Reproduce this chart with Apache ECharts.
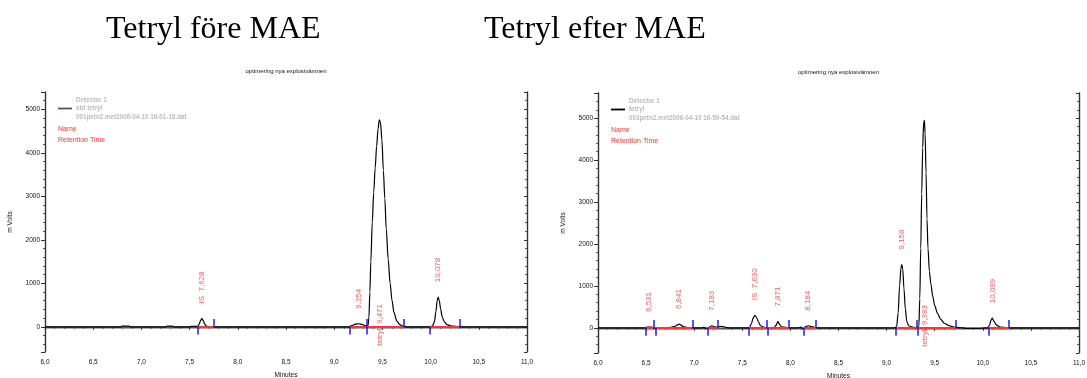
<!DOCTYPE html>
<html><head><meta charset="utf-8">
<script src="https://cdn.jsdelivr.net/npm/echarts@6/dist/echarts.min.js"></script>
<style>html,body{margin:0;padding:0;background:#fff}#c{width:1087px;height:378px}</style>
</head><body><div id="c"></div>
<script>
// ---------- data ----------
const xTickValues = [6.0, 6.5, 7.0, 7.5, 8.0, 8.5, 9.0, 9.5, 10.0, 10.5, 11.0];
const xTickLabels = ['6,0','6,5','7,0','7,5','8,0','8,5','9,0','9,5','10,0','10,5','11,0'];

// Left chromatogram: Tetryl före MAE  [minutes, mV]
const leftTrace = [
 [6.00,0],[6.78,0],[6.80,15],[6.87,15],[6.89,0],[7.25,0],[7.27,15],[7.32,15],[7.34,0],
 [7.50,0],[7.52,8],[7.585,8],[7.60,60],[7.615,150],[7.628,190],[7.64,150],[7.655,70],[7.67,20],[7.70,5],[7.75,0],
 [9.15,0],[9.18,25],[9.22,60],[9.254,70],[9.29,55],[9.32,30],[9.35,25],
 [9.36,200],[9.37,800],[9.38,1500],[9.395,2400],[9.41,3100],[9.425,3650],[9.44,4150],[9.455,4550],[9.468,4760],
 [9.48,4700],[9.495,4300],[9.51,3600],[9.525,2950],[9.54,2250],[9.56,1550],[9.58,1000],[9.60,600],[9.62,330],
 [9.65,130],[9.68,50],[9.72,10],[9.76,0],
 [10.00,0],[10.02,20],[10.04,120],[10.055,350],[10.068,600],[10.078,680],[10.09,600],[10.105,400],[10.12,230],
 [10.14,120],[10.17,50],[10.22,15],[10.30,0],[11.00,0]
];
const leftPeakRT     = [7.628, 9.254, 9.471, 10.078];
const leftPeakName   = ['IS', '', 'tetryl', ''];
const leftPeakHeight = [190, 70, 4760, 680];
const leftPeakStart  = [7.580, 9.164, 9.337, 9.994];
const leftPeakEnd    = [7.746, 9.337, 9.717, 10.298];

// Right chromatogram: Tetryl efter MAE
const rightTrace = [
 [6.00,0],[6.49,0],[6.51,15],[6.56,18],[6.59,-10],[6.63,-5],[6.70,0],[6.76,10],[6.80,35],[6.825,70],[6.841,90],
 [6.86,70],[6.885,30],[6.93,8],[6.98,0],[7.08,0],[7.10,10],[7.13,-15],[7.16,20],[7.183,50],[7.21,25],[7.24,15],
 [7.27,35],[7.30,30],[7.33,10],[7.37,0],[7.55,0],[7.575,5],[7.595,100],[7.612,230],[7.630,300],[7.65,240],
 [7.67,130],[7.69,50],[7.72,15],[7.76,0],[7.83,5],[7.85,60],[7.871,150],[7.89,70],[7.91,20],[7.95,10],[7.99,0],
 [8.08,0],[8.11,15],[8.13,-25],[8.16,30],[8.184,50],[8.21,35],[8.25,10],[8.30,0],
 [9.09,0],[9.105,40],[9.12,350],[9.135,1000],[9.15,1450],[9.158,1510],[9.168,1400],[9.18,950],[9.195,450],
 [9.21,150],[9.23,50],[9.27,15],[9.32,0],[9.335,30],[9.345,700],[9.355,1900],[9.365,3200],[9.375,4300],
 [9.385,4900],[9.393,4950],[9.40,4650],[9.41,3700],[9.42,2600],[9.43,1900],[9.445,1350],[9.46,1050],[9.48,750],
 [9.50,530],[9.53,340],[9.56,210],[9.60,110],[9.65,50],[9.70,20],[9.76,5],[9.80,0],[9.83,-15],[9.95,-15],
 [10.00,-5],[10.05,0],[10.07,60],[10.085,180],[10.099,230],[10.115,160],[10.14,70],[10.18,20],[10.25,5],
 [10.30,0],[11.00,0]
];
const rightPeakRT     = [6.531, 6.841, 7.183, 7.630, 7.871, 8.184, 9.158, 9.393, 10.099];
const rightPeakName   = ['', '', '', 'IS', '', '', '', 'tetryl', ''];
const rightPeakHeight = [20, 90, 50, 300, 150, 50, 1510, 4950, 230];
const rightPeakStart  = [6.500, 6.596, 7.140, 7.570, 7.760, 8.134, 9.098, 9.320, 10.057];
const rightPeakEnd    = [6.575, 6.980, 7.240, 7.750, 7.985, 8.266, 9.310, 9.715, 10.270];

const panels = [
  {title:'Tetryl före MAE', sub:'optimering nya explosivämnen', det:'Detector 1', sample:'std tetryl',
   file:'001petn2.met2006-04-10 16-01-16.dat', yMin:-580, yMax:5400,
   trace:leftTrace, rt:leftPeakRT, names:leftPeakName, heights:leftPeakHeight, starts:leftPeakStart, ends:leftPeakEnd},
  {title:'Tetryl efter MAE', sub:'optimering nya explosivämnen', det:'Detector 1', sample:'tetryl',
   file:'003petn2.met2006-04-10 16-50-54.dat', yMin:-600, yMax:5600,
   trace:rightTrace, rt:rightPeakRT, names:rightPeakName, heights:rightPeakHeight, starts:rightPeakStart, ends:rightPeakEnd}
];

// ---------- layout ----------
const grids = [
  {left:45, top:92, width:482, height:260},
  {left:598, top:93, width:481, height:260}
];
const FONT = 'Liberation Sans, Arial, sans-serif';
const AX = '#333';
const RED = '#ff3333';
const BLUE = '#1a1aff';

const option = {
  animation:false,
  backgroundColor:'#fff',
  grid: grids.map(g => Object.assign({containLabel:false, outerBoundsMode:'none'}, g)),
  xAxis: [], yAxis: [], series: [], graphic: []
};

panels.forEach((p, i) => {
  const fmt = v => {
    const k = xTickValues.findIndex(t => Math.abs(t - v) < 1e-6);
    return k >= 0 ? xTickLabels[k] : '';
  };
  option.xAxis.push({
    gridIndex:i, type:'value', min:6, max:11, interval:0.5, position:'bottom',
    name:'Minutes', nameLocation:'middle', nameGap:20,
    nameTextStyle:{fontFamily:FONT, fontSize:6.5, color:'#111'},
    axisLine:{show:true, lineStyle:{color:AX, width:1.4}},
    axisTick:{show:true, inside:false, length:3, lineStyle:{color:AX}},
    minorTick:{show:true, splitNumber:5, length:2, lineStyle:{color:'#555'}},
    axisLabel:{formatter:fmt, fontFamily:FONT, fontSize:6.5, color:'#111', margin:7},
    splitLine:{show:false}, minorSplitLine:{show:false}
  });
  option.xAxis.push({
    gridIndex:i, type:'value', min:6, max:11, position:'top',
    axisLine:{show:true, lineStyle:{color:'#555', width:1.4}},
    axisTick:{show:false}, axisLabel:{show:false}, splitLine:{show:false}
  });
  option.yAxis.push({
    gridIndex:i, type:'value', min:p.yMin, max:p.yMax, splitNumber:5, position:'left',
    name:'m Volts', nameLocation:'middle', nameGap:31, nameRotate:90,
    nameTextStyle:{fontFamily:FONT, fontSize:6.5, color:'#111'},
    axisLine:{show:true, lineStyle:{color:AX, width:1.4}},
    axisTick:{show:true, inside:false, length:4, lineStyle:{color:AX}},
    minorTick:{show:true, splitNumber:5, length:2, lineStyle:{color:'#555'}},
    axisLabel:{formatter: v => String(Math.round(v)), fontFamily:FONT, fontSize:6.5, color:'#111', margin:5,
      showMinLabel:false, showMaxLabel:false},
    splitLine:{show:false}, minorSplitLine:{show:false}
  });
  option.yAxis.push({
    gridIndex:i, type:'value', min:p.yMin, max:p.yMax, splitNumber:5, position:'right',
    axisLine:{show:true, lineStyle:{color:AX, width:1.4}},
    axisTick:{show:true, inside:true, length:3, lineStyle:{color:AX}},
    minorTick:{show:true, splitNumber:5, length:2, lineStyle:{color:'#555'}},
    axisLabel:{show:false}, splitLine:{show:false}, minorSplitLine:{show:false}
  });
  const xi = i * 2, yi = i * 2;

  // trace
  option.series.push({
    type:'line', xAxisIndex:xi, yAxisIndex:yi, data:p.trace, symbol:'none',
    smooth:0.3, smoothMonotone:'x', z:3,
    lineStyle:{color:'#000', width:1.2}
  });
  // integration baselines (red) and peak start/end markers (blue)
  const baseSegs = p.starts.map((s, k) => [{coord:[s, 0]}, {coord:[p.ends[k], 0]}]);
  const tickLen = (p.yMax - p.yMin) * 0.03;
  const startMarks = p.starts.map(s => [{coord:[s, 0]}, {coord:[s, -tickLen]}]);
  const endMarks = p.ends.map(e => [{coord:[e, 0]}, {coord:[e, tickLen]}]);
  option.series.push({
    type:'line', xAxisIndex:xi, yAxisIndex:yi, data:[], z:4,
    markLine:{silent:true, symbol:['none','none'], label:{show:false},
      lineStyle:{color:RED, width:2, type:'solid'}, data:baseSegs, z:4}
  });
  option.series.push({
    type:'line', xAxisIndex:xi, yAxisIndex:yi, data:[], z:5,
    markLine:{silent:true, symbol:['none','none'], label:{show:false},
      lineStyle:{color:BLUE, width:1.5, type:'solid'}, data:startMarks.concat(endMarks), z:5}
  });
  // peak labels (offset is in the rotated text frame: +x = up on screen)
  const labelData = p.rt.map((r, k) => {
    const txt = (p.names[k] ? p.names[k] + '  ' : '') + r.toFixed(3).replace('.', ',');
    const inside = p.names[k] === 'tetryl';
    return {
      value:[r, inside ? 0 : p.heights[k]], txt:txt,
      label:{offset: inside ? [-19, 0] : [15, 0]}
    };
  });
  option.series.push({
    type:'scatter', xAxisIndex:xi, yAxisIndex:yi, data:labelData, symbolSize:1,
    itemStyle:{color:'rgba(0,0,0,0)'}, z:6, silent:true,
    label:{show:true, position:'inside', rotate:90, align:'left', verticalAlign:'middle',
      formatter: prm => prm.data.txt, fontFamily:FONT, fontSize:8, color:RED}
  });

  // texts
  const g = grids[i];
  const cx = g.left + g.width / 2;
  option.graphic.push(
    {type:'text', x: i === 0 ? 106 : 484, y:30,
     style:{text:p.title, font:'32px "Liberation Serif", "Times New Roman", serif', fill:'#000', textVerticalAlign:'middle'}},
    {type:'text', x:cx, y: g.top - 21,
     style:{text:p.sub, font:'6px ' + FONT, fill:'#111', textAlign:'center', textVerticalAlign:'middle'}},
    {type:'line', shape:{x1:g.left + 13, y1:g.top + 16.5, x2:g.left + 27, y2:g.top + 16.5},
     style:{stroke: i === 0 ? '#555' : '#000', lineWidth:1.8}},
    {type:'text', x:g.left + 31, y:g.top + 8,
     style:{text:p.det, font:'bold 6.3px ' + FONT, fill:'#bbb', textVerticalAlign:'middle'}},
    {type:'text', x:g.left + 31, y:g.top + 16.5,
     style:{text:p.sample, font:'bold 6.3px ' + FONT, fill:'#bbb', textVerticalAlign:'middle'}},
    {type:'text', x:g.left + 31, y:g.top + 25,
     style:{text:p.file, font:'bold 6.3px ' + FONT, fill:'#bbb', textVerticalAlign:'middle'}},
    {type:'text', x:g.left + 13, y:g.top + 37,
     style:{text:'Name', font:'7px ' + FONT, fill:RED, textVerticalAlign:'middle'}},
    {type:'text', x:g.left + 13, y:g.top + 48,
     style:{text:'Retention Time', font:'7px ' + FONT, fill:RED, textVerticalAlign:'middle'}}
  );
});

const chart = echarts.init(document.getElementById('c'), null, {renderer:'canvas'});
chart.setOption(option);
</script>
</body></html>
